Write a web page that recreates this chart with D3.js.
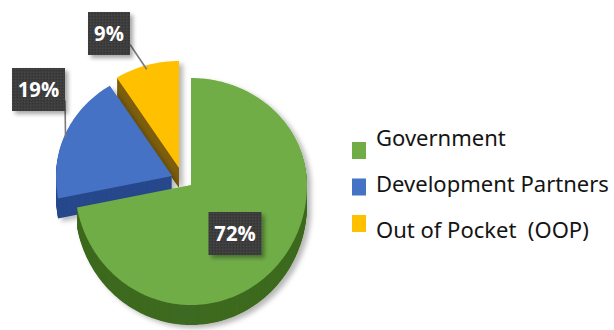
<!DOCTYPE html>
<html>
<head>
<meta charset="utf-8">
<script src="https://cdn.jsdelivr.net/npm/d3@7"></script>
<style>
  html, body { margin: 0; padding: 0; background: #fff; }
  svg { display: block; }
</style>
</head>
<body>
<svg id="chart" width="614" height="330"></svg>
<script>
// Funding sources (share of total, %)
const categories = ["Government", "Development Partners", "Out of Pocket  (OOP)"];
const shares = [72, 19, 9];
const shareLabels = ["72%", "19%", "9%"];

const topColors  = ["#70ad47", "#4472c4", "#ffc000"];
const sideColors = ["#3d6a20", "#27488c", "#7e5e08"];

const svg = d3.select("#chart");
const defs = svg.append("defs");

// soft shadow under the slices and label boxes
const sh = defs.append("filter").attr("id", "shadow")
  .attr("x", "-20%").attr("y", "-20%").attr("width", "150%").attr("height", "150%");
sh.append("feDropShadow").attr("dx", 4).attr("dy", 3)
  .attr("stdDeviation", 2.5).attr("flood-color", "#000").attr("flood-opacity", 0.28);

const bsh = defs.append("filter").attr("id", "boxShadow")
  .attr("x", "-30%").attr("y", "-30%").attr("width", "170%").attr("height", "170%");
bsh.append("feDropShadow").attr("dx", 3).attr("dy", 3)
  .attr("stdDeviation", 2).attr("flood-color", "#000").attr("flood-opacity", 0.35);

// fine grain used on the label boxes
const pat = defs.append("pattern").attr("id", "grain")
  .attr("width", 3).attr("height", 3).attr("patternUnits", "userSpaceOnUse");
pat.append("rect").attr("width", 3).attr("height", 3).attr("fill", "#3d3d3d");
pat.append("rect").attr("width", 1).attr("height", 1).attr("fill", "#4a4a4a");
pat.append("rect").attr("x", 2).attr("y", 1).attr("width", 1).attr("height", 1).attr("fill", "#333");

// tilted pie geometry (slightly deeper toward the viewer)
const cx = 191, cy = 185;
const rx = 116, ryBack = 107, ryFront = 120;
const depth = 20;
// how far each slice is pulled out of the pie
const explodeOffsets = [[0, 0], [-19, -9], [-12, -17]];

const pie = d3.pie().sort(null).value(d => d);
const arcs = pie(shares);

function project(ox, oy, a) {
  const s = Math.sin(a), c = -Math.cos(a);
  return [ox + s * rx, oy + c * (c < 0 ? ryBack : ryFront)];
}
function sliceOrigin(i) {
  return [cx + explodeOffsets[i][0], cy + explodeOffsets[i][1]];
}
function slicePoints(d, i) {
  const [ox, oy] = sliceOrigin(i);
  const pts = [[ox, oy]];
  const n = Math.max(8, Math.ceil((d.endAngle - d.startAngle) / (Math.PI / 180)));
  for (let k = 0; k <= n; k++) {
    const a = d.startAngle + (d.endAngle - d.startAngle) * k / n;
    pts.push(project(ox, oy, a));
  }
  return pts;
}
const line = d3.line().curve(d3.curveLinearClosed);

const pieG = svg.append("g");
// back slices first, the large front slice last
[2, 1, 0].forEach(i => {
  const d = arcs[i];
  const pts = slicePoints(d, i);
  const g = pieG.append("g").attr("filter", "url(#shadow)");
  const side = g.append("g");
  for (let k = depth; k >= 1; k--) {
    side.append("path")
      .attr("d", line(pts.map(p => [p[0], p[1] + k])))
      .attr("fill", sideColors[i]);
  }
  g.append("path").attr("d", line(pts)).attr("fill", topColors[i]);
});

// value labels
const labelFont = "'Open Sans', 'Noto Sans', sans-serif";
const labelPos = [[235, 233.5], [38.5, 89.5], [109, 33.5]];
const labelG = svg.append("g");
arcs.forEach((d, i) => {
  const [lx, ly] = labelPos[i];
  const bw = shareLabels[i].length > 2 ? 53 : 42, bh = 43;
  if (i > 0) {
    const [ox, oy] = sliceOrigin(i);
    const m = (d.startAngle + d.endAngle) / 2;
    const end = project(ox, oy, m);
    labelG.append("line")
      .attr("x1", lx + bw / 2).attr("y1", ly + 11)
      .attr("x2", end[0]).attr("y2", end[1] + 4)
      .attr("stroke", "#7a7a7a").attr("stroke-width", 1.6);
  }
  labelG.append("rect")
    .attr("x", lx - bw / 2).attr("y", ly - bh / 2)
    .attr("width", bw).attr("height", bh)
    .attr("fill", "url(#grain)")
    .attr("filter", "url(#boxShadow)");
  labelG.append("text")
    .attr("x", lx).attr("y", ly + 8)
    .attr("text-anchor", "middle")
    .attr("font-family", labelFont)
    .attr("font-weight", 700)
    .attr("font-size", 22)
    .attr("fill", "#fff")
    .attr("transform", `translate(${lx},0) scale(0.92,1) translate(${-lx},0)`)
    .text(shareLabels[i]);
});

// legend
const legendFont = "'Noto Sans', 'Open Sans', sans-serif";
const leg = svg.append("g");
const legTexts = categories.map((c, i) => {
  leg.append("rect")
    .attr("x", 352).attr("y", 142 + i * 36.5)
    .attr("width", 14).attr("height", 17)
    .attr("fill", topColors[i]);
  return leg.append("text")
    .attr("x", 376).attr("y", 146 + i * 46)
    .attr("font-family", legendFont)
    .attr("font-size", 20)
    .attr("fill", "#141414")
    .style("white-space", "pre")
    .text(c);
});
// size the legend so the longest entry reaches the right margin
const widest = d3.max(legTexts, t => t.node().getComputedTextLength());
const legendSize = 20 * 233 / widest;
legTexts.forEach(t => t.attr("font-size", legendSize));
</script>
</body>
</html>
